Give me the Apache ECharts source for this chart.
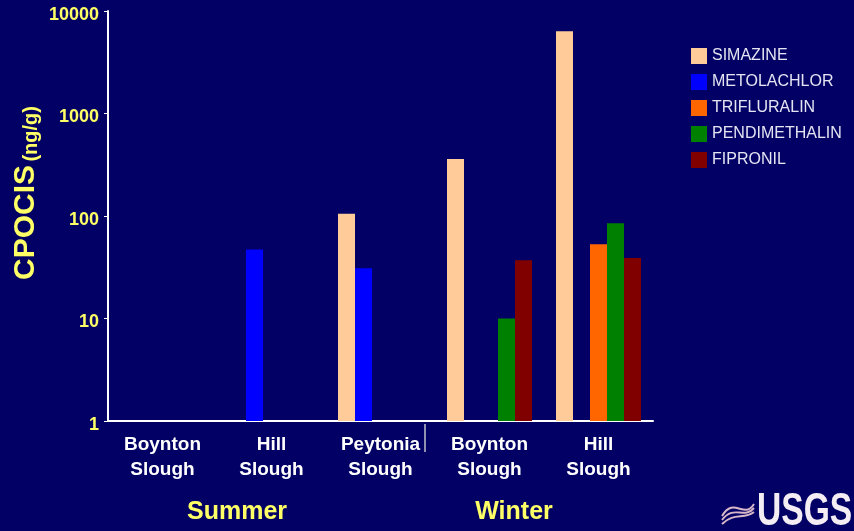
<!DOCTYPE html>
<html>
<head>
<meta charset="utf-8">
<script src="https://cdn.jsdelivr.net/npm/echarts@6/dist/echarts.min.js"></script>
<style>
  html, body { margin: 0; padding: 0; background: #020064; }
  #main { width: 854px; height: 531px; }
</style>
</head>
<body>
<div id="main"></div>
<script>
// sites (two seasons)
const sites = ["Boynton\nSlough", "Hill\nSlough", "Peytonia\nSlough", "Boynton\nSlough", "Hill\nSlough"];
const seasons = ["Summer", "Winter"];
const compounds = ["SIMAZINE", "METOLACHLOR", "TRIFLURALIN", "PENDIMETHALIN", "FIPRONIL"];
const colors = ["#ffcc99", "#0000ff", "#ff6600", "#008000", "#800000"];

// CPOCIS ng/g, null = not detected
const simazine = [null, null, 105, 360, 6350];
const metolachlor = [null, 47, 31, null, null];
const trifluralin = [null, null, null, null, 53];
const pendimethalin = [null, null, null, 10, 85];
const fipronil = [null, null, null, 37, 39];
const values = [simazine, metolachlor, trifluralin, pendimethalin, fipronil];

const yellow = "#ffff66";
const chart = echarts.init(document.getElementById("main"));

const option = {
  backgroundColor: "#020064",
  animation: false,
  grid: { left: 108, right: 201, top: 11, bottom: 110 },
  legend: {
    orient: "vertical",
    left: 686,
    top: 43,
    itemWidth: 16,
    itemHeight: 16,
    itemGap: 10,
    icon: "rect",
    textStyle: { color: "#e4e4f2", fontSize: 16, fontFamily: "Liberation Sans", padding: [0, 0, 0, 0] },
    data: compounds
  },
  xAxis: {
    type: "category",
    data: sites,
    axisLine: { lineStyle: { color: "#ffffff", width: 2 } },
    axisTick: { length: 4, lineStyle: { color: "#c0c0d0" } },
    axisLabel: {
      color: "#ffffff",
      fontSize: 19,
      fontWeight: "bold",
      fontFamily: "Liberation Sans",
      lineHeight: 25,
      margin: 11
    }
  },
  yAxis: {
    type: "log",
    logBase: 10,
    min: 1,
    max: 10000,
    axisLine: { show: true, lineStyle: { color: "#ffffff", width: 2 } },
    axisTick: { show: true, length: 4, lineStyle: { color: "#ffffff" } },
    splitLine: { show: false },
    axisLabel: {
      margin: 9,
      formatter: v => "{v|" + v + "}",
      rich: {
        v: { color: yellow, fontSize: 18, fontWeight: "bold", fontFamily: "Liberation Sans", padding: [8, 0, 0, 0] }
      }
    }
  },
  series: compounds.map((name, i) => ({
    name: name,
    type: "bar",
    data: values[i],
    barWidth: 17,
    barGap: "0%",
    itemStyle: { color: colors[i] }
  })),
  graphic: [
    {
      type: "text",
      x: 26,
      y: 193,
      rotation: Math.PI / 2,
      style: {
        text: "{a|CPOCIS} {b|(ng/g)}",
        align: "center",
        verticalAlign: "middle",
        rich: {
          a: { fill: yellow, fontSize: 30, fontWeight: "bold", fontFamily: "Liberation Sans", verticalAlign: "bottom" },
          b: { fill: yellow, fontSize: 20, fontWeight: "bold", fontFamily: "Liberation Sans", verticalAlign: "bottom" }
        }
      }
    },
    {
      type: "line",
      shape: { x1: 425, y1: 424, x2: 425, y2: 452 },
      style: { stroke: "#9090b0", lineWidth: 2 }
    },
    {
      type: "text",
      x: 237,
      y: 512,
      style: { text: seasons[0], fill: yellow, font: "bold 25px 'Liberation Sans'", align: "center", verticalAlign: "middle" }
    },
    {
      type: "text",
      x: 514,
      y: 512,
      style: { text: seasons[1], fill: yellow, font: "bold 25px 'Liberation Sans'", align: "center", verticalAlign: "middle" }
    },
    {
      type: "text",
      x: 757,
      y: 535,
      scaleX: 0.73,
      style: { text: "USGS", fill: "#f4eef4", font: "bold 46px 'Liberation Sans'", align: "left", verticalAlign: "bottom" }
    },
    {
      type: "group",
      x: 722,
      y: 496,
      children: [0, 8, 16].map(dy => ({
        type: "bezierCurve",
        shape: { x1: 0, y1: 20 + dy / 2, x2: 32, y2: 8 + dy / 2, cpx1: 12, cpy1: 0 + dy, cpx2: 22, cpy2: 24 },
        style: { stroke: "#d8b8c8", lineWidth: 2, fill: null }
      }))
    }
  ]
};

chart.setOption(option);
</script>
</body>
</html>
